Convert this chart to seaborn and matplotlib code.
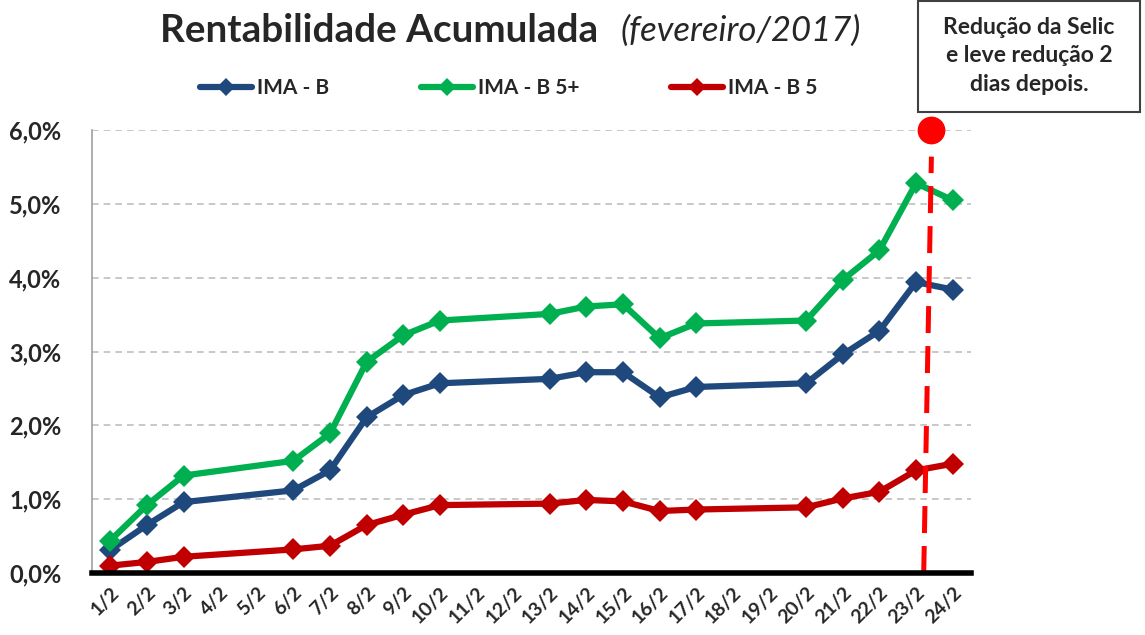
import pandas as pd
import numpy as np
import matplotlib
matplotlib.use('Agg')
import matplotlib.pyplot as plt
from matplotlib.ticker import FuncFormatter
from matplotlib.patches import Rectangle
from matplotlib.lines import Line2D
import seaborn as sns

# Data (cumulative return, %)
tick_labels = ['1/2', '2/2', '3/2', '4/2', '5/2', '6/2', '7/2', '8/2', '9/2', '10/2',
               '11/2', '12/2', '13/2', '14/2', '15/2', '16/2', '17/2', '18/2', '19/2',
               '20/2', '21/2', '22/2', '23/2', '24/2']
days = [1, 2, 3, 6, 7, 8, 9, 10, 13, 14, 15, 16, 17, 20, 21, 22, 23, 24]
ima_b = [0.31, 0.65, 0.96, 1.12, 1.39, 2.11, 2.41, 2.57, 2.63, 2.72, 2.72, 2.38,
         2.52, 2.57, 2.96, 3.28, 3.94, 3.84]
ima_b5_plus = [0.44, 0.92, 1.32, 1.52, 1.89, 2.86, 3.22, 3.42, 3.51, 3.61, 3.64,
               3.18, 3.38, 3.42, 3.97, 4.37, 5.28, 5.05]
ima_b5 = [0.10, 0.15, 0.22, 0.32, 0.37, 0.65, 0.79, 0.92, 0.94, 0.99, 0.97, 0.84,
          0.86, 0.89, 1.01, 1.10, 1.39, 1.48]
series_names = ['IMA - B', 'IMA - B 5+', 'IMA - B 5']
colors = ['#1F497D', '#00B050', '#C00000']

df = pd.concat([
    pd.DataFrame({'pos': [d - 1 for d in days], 'val': vals, 'serie': name})
    for name, vals in zip(series_names, [ima_b, ima_b5_plus, ima_b5])
])

sns.set_style('white')
plt.rcParams['font.family'] = ['Lato', 'DejaVu Sans']

fig = plt.figure(figsize=(11.45, 6.35), dpi=100)
ax = fig.add_axes([0.0803, 0.0976, 0.7677, 0.6976])

sns.lineplot(data=df, x='pos', y='val', hue='serie', hue_order=series_names,
             palette=colors, marker='D', markersize=11, linewidth=4.5,
             markeredgewidth=0, legend=False, ax=ax)

ax.set_xlim(-0.5, 23.5)
ax.set_ylim(0, 6)
ax.set_xticks(range(len(tick_labels)))
ax.set_xticklabels(tick_labels, rotation=45, ha='right', rotation_mode='anchor',
                   fontsize=14, fontweight='bold')
ax.set_yticks(np.arange(0, 6.1, 1))
ax.yaxis.set_major_formatter(FuncFormatter(lambda v, p: f'{v:.1f}%'.replace('.', ',')))
for t in ax.get_yticklabels():
    t.set_fontsize(17)
    t.set_fontweight('bold')
ax.tick_params(axis='y', length=0, pad=22)
ax.tick_params(axis='x', length=0, pad=8)
ax.set_xlabel('')
ax.set_ylabel('')

ax.grid(axis='y', color='#BFBFBF', linestyle=(0, (4, 3)), linewidth=1.2)
ax.set_axisbelow(True)
for s in ['top', 'right']:
    ax.spines[s].set_visible(False)
ax.spines['left'].set_color('#A0A0A0')
ax.spines['left'].set_linewidth(1.2)
ax.spines['bottom'].set_color('black')
ax.spines['bottom'].set_linewidth(4)
ax.spines['bottom'].set_zorder(5)

# Selic marker
ax.plot([22.21, 22.42], [0, 5.64], color='#FF0000', linewidth=3.6,
        dashes=(5.4, 2.6), zorder=4, solid_capstyle='butt')
ax.plot([22.42], [6.0], marker='o', markersize=20, color='#FF0000',
        markeredgewidth=0, clip_on=False, zorder=6)

# Legend
handles = [Line2D([], [], color=c, marker='D', markersize=9, linewidth=4.5,
                  markeredgewidth=0) for c in colors]
fig.legend(handles, series_names, loc='center left', bbox_to_anchor=(0.158, 0.861),
           ncol=3, frameon=False, handlelength=2.5, handletextpad=0.25,
           columnspacing=4.4, prop={'size': 15, 'weight': 'bold'})

# Title
fig.text(0.140, 0.952, 'Rentabilidade Acumulada', fontsize=27.8, fontweight='bold',
         va='center', ha='left')
fig.text(0.542, 0.952, '(fevereiro/2017)', fontsize=25, style='italic',
         va='center', ha='left')

# Annotation box
fig.patches.append(Rectangle((0.8017, 0.8236), 0.1939, 0.1744, transform=fig.transFigure,
                             fill=False, edgecolor='#404040', linewidth=1.5))
fig.text(0.8987, 0.912, 'Redução da Selic\ne leve redução 2\ndias depois.',
         fontsize=16.5, fontweight='bold', ha='center', va='center', linespacing=1.45)

fig.savefig('out.png', dpi=100)
